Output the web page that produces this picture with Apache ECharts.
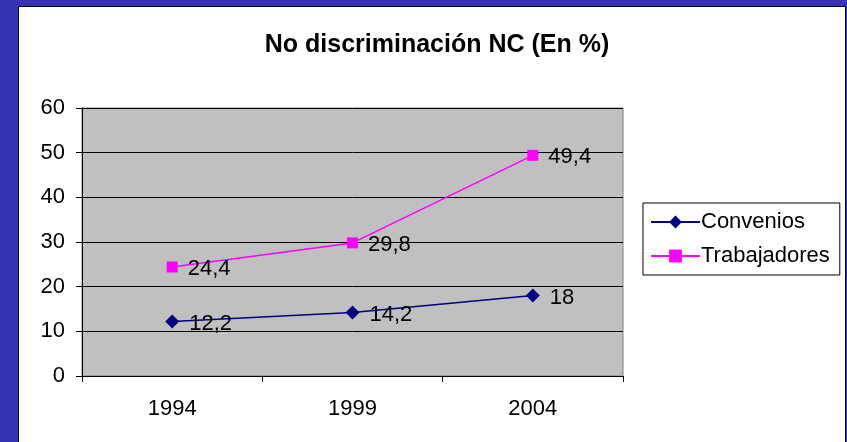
<!DOCTYPE html>
<html>
<head>
<meta charset="utf-8">
<script src="https://cdn.jsdelivr.net/npm/echarts@6/dist/echarts.min.js"></script>
<style>
  html, body { margin: 0; padding: 0; }
  body { background: #3434b2; }
  #chart { width: 847px; height: 442px; }
</style>
</head>
<body>
<div id="chart"></div>
<script>
// datos del grafico
const years = ['1994', '1999', '2004'];
const convenios = [12.2, 14.2, 18];
const trabajadores = [24.4, 29.8, 49.4];

const chart = echarts.init(document.getElementById('chart'));
const fmt = p => String(p.value).replace('.', ',');
const font = 'Arial, "Liberation Sans", sans-serif';

chart.setOption({
  backgroundColor: '#3434b2',
  textStyle: { fontFamily: font },
  graphic: [
    {
      type: 'rect', z: -10,
      shape: { x: 18.5, y: 6.5, width: 827, height: 440 },
      style: { fill: '#fff', stroke: '#000', lineWidth: 1 }
    }
  ],
  title: {
    text: 'No discriminación NC (En %)',
    left: 432, top: 28, textAlign: 'center',
    textStyle: { fontSize: 25, fontWeight: 'bold', color: '#000', fontFamily: font }
  },
  legend: {
    orient: 'vertical',
    left: 643, top: 203,
    backgroundColor: '#fff',
    borderColor: '#000', borderWidth: 1, borderRadius: 0,
    padding: [8, 10, 8, 7],
    itemWidth: 49, itemHeight: 16, itemGap: 12,
    textStyle: { fontSize: 22, color: '#000', fontFamily: font, padding: [0, 0, 0, -4] },
    data: ['Convenios', 'Trabajadores']
  },
  grid: {
    left: 82, top: 108, right: 224, bottom: 66,
    show: true, backgroundColor: '#c0c0c0', borderColor: '#808080', borderWidth: 1
  },
  xAxis: {
    type: 'category',
    data: years,
    boundaryGap: true,
    axisLine: { lineStyle: { color: '#000', width: 1 } },
    axisTick: { show: true, length: 6, lineStyle: { color: '#000' } },
    axisLabel: { fontSize: 22, color: '#000', margin: 22, fontFamily: font }
  },
  yAxis: {
    type: 'value',
    min: 0, max: 60, interval: 10,
    axisLine: { show: true, lineStyle: { color: '#000', width: 1 } },
    axisTick: { show: true, length: 6, lineStyle: { color: '#000' } },
    axisLabel: { fontSize: 22, color: '#000', margin: 17, fontFamily: font },
    splitLine: { lineStyle: { color: '#000', width: 1 } }
  },
  series: [
    {
      name: 'Convenios',
      type: 'line',
      data: convenios,
      symbol: 'diamond', symbolSize: 14,
      itemStyle: { color: '#000080' },
      lineStyle: { color: '#000080', width: 1.5 },
      label: { show: true, position: 'right', distance: 10, formatter: fmt,
               fontSize: 22, color: '#000', fontFamily: font, offset: [0, 2] }
    },
    {
      name: 'Trabajadores',
      type: 'line',
      data: trabajadores,
      symbol: 'rect', symbolSize: 11,
      itemStyle: { color: '#ff00ff' },
      lineStyle: { color: '#ff00ff', width: 1.5 },
      label: { show: true, position: 'right', distance: 10, formatter: fmt,
               fontSize: 22, color: '#000', fontFamily: font, offset: [0, 2] }
    }
  ]
});
</script>
</body>
</html>
